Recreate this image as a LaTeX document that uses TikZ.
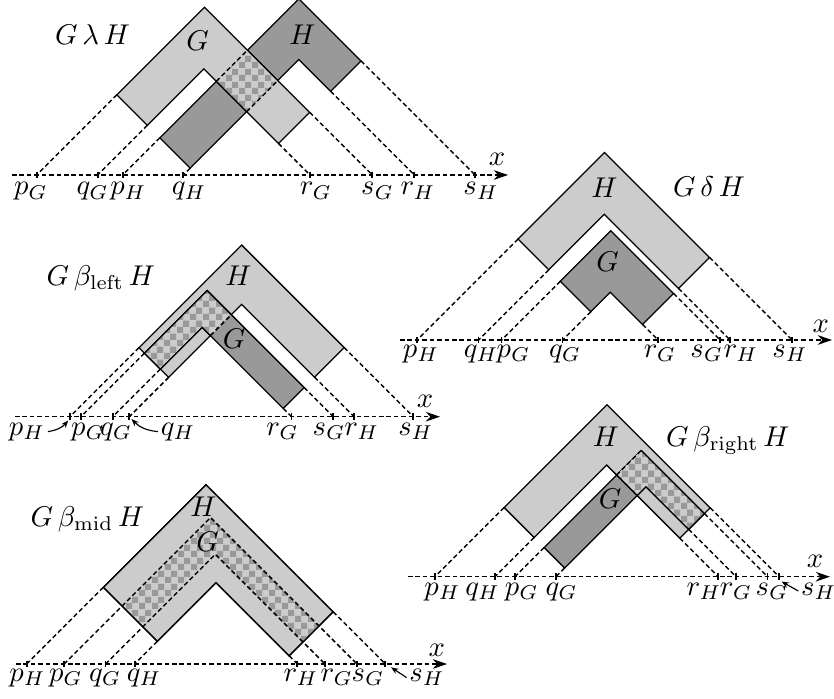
\documentclass[tikz,border=0pt]{standalone}
\usetikzlibrary{patterns,arrows.meta}
\pgfdeclarepatternformonly{mychecks}{\pgfqpoint{0pt}{0pt}}{\pgfqpoint{4.4pt}{4.4pt}}{\pgfqpoint{4.4pt}{4.4pt}}{%
  \pgfpathrectangle{\pgfqpoint{0pt}{0pt}}{\pgfqpoint{2.2pt}{2.2pt}}%
  \pgfpathrectangle{\pgfqpoint{2.2pt}{2.2pt}}{\pgfqpoint{2.2pt}{2.2pt}}%
  \pgfusepath{fill}}
\definecolor{lg}{gray}{0.8}
\definecolor{dg}{gray}{0.6}
\tikzset{
  proj/.style={dash pattern=on 1.6pt off 1pt, line width=0.5pt},
  axisline/.style={proj, -{Stealth[length=5pt,width=3.4pt]}},
  tickmark/.style={line width=0.6pt},
  lightshape/.style={fill=lg, draw=black, line width=0.45pt},
  darkshape/.style={fill=dg, draw=black, line width=0.45pt},
  outline/.style={draw=black, line width=0.45pt},
  checks/.style={pattern=mychecks, pattern color=dg},
  edge/.style={line width=0.45pt},
  lab/.style={anchor=base, inner sep=0pt},
  xl/.style={inner sep=0pt},
  ptr/.style={-{Stealth[length=2.6pt,width=2pt]}, line width=0.4pt},
}
\newcommand\mychev[7]{\path[#1] (#2,#6) -- (#2,#5) -- (#7,#5) -- (#7,#4) -- (#3,#4) -- (#3,#6) -- cycle;}
\newcommand\mymarks[7]{%
  \coordinate (#1p) at (#2,#2); \coordinate (#1q) at (#3,#3);
  \coordinate (#1r) at (#4,#4); \coordinate (#1s) at (#5,#5);
  \coordinate (#1cp) at (#2,#6); \coordinate (#1cq) at (#3,#6);
  \coordinate (#1cr) at (#7,#4); \coordinate (#1cs) at (#7,#5);}
\newcommand\myprojs[1]{\draw[proj] (#1cp) -- (#1p); \draw[proj] (#1cq) -- (#1q);
  \draw[proj] (#1cr) -- (#1r); \draw[proj] (#1cs) -- (#1s);}
\newcommand\myticks[1]{\foreach \t in {p,q,r,s}{\draw[tickmark] ([yshift=1.2pt]#1\t) -- ([yshift=-1.2pt]#1\t);}}
\newcommand\lab[4]{\node[lab] (#1) at (#2,#3) {$#4$};}
\begin{document}
\begin{tikzpicture}[x=0.35pt,y=-0.35pt]
\useasboundingbox (0,0) rectangle (834,698);

% ---------------- Panel 1: G lambda H
\begin{scope}[shift={(0,175)}]
\begin{scope}[x={(0.175pt,-0.175pt)},y={(0.175pt,0.175pt)}]
\mymarks{AG}{36.7}{97.7}{310}{372.3}{197}{247}
\mymarks{AH}{122.7}{183.3}{414.3}{475}{197}{247}
\myprojs{AG}\myprojs{AH}
\mychev{darkshape}{122.7}{183.3}{414.3}{475}{197}{247}
\mychev{lightshape}{36.7}{97.7}{310}{372.3}{197}{247}
\path[fill=lg] (122.7,310) -- (122.7,372.3) -- (183.3,372.3) -- (183.3,310) -- cycle;
\path[checks] (122.7,310) -- (122.7,372.3) -- (183.3,372.3) -- (183.3,310) -- cycle;
\draw[edge] (122.7,310) -- (183.3,310) (122.7,372.3) -- (183.3,372.3);
\draw[proj] (122.7,310) -- (122.7,372.3) (183.3,310) -- (183.3,372.3);
\end{scope}
\end{scope}
\coordinate (A0) at (12,175); \coordinate (A1) at (508,175);
\draw[axisline] (A0) -- (A1);
\node[xl] (Ax) at (497,159) {$x$};
\myticks{AG}\myticks{AH}
\lab{ApGl}{30.8}{195}{p_G}
\lab{AqGl}{92.5}{195}{q_G}
\lab{ApHl}{128.3}{195}{p_H}
\lab{AqHl}{189.2}{195}{q_H}
\lab{ArGl}{315.8}{195}{r_G}
\lab{AsGl}{377.5}{195}{s_G}
\lab{ArHl}{418}{195}{r_H}
\lab{AsHl}{481}{195}{s_H}
\lab{Atitle}{92.5}{44.3}{G\,\lambda\,H}
\lab{AGn}{197.5}{50.7}{G}
\lab{AHn}{302.5}{45}{H}

% ---------------- Panel 2: G delta H
\begin{scope}[shift={(0,340)}]
\begin{scope}[x={(0.175pt,-0.175pt)},y={(0.175pt,0.175pt)}]
\mymarks{BH}{417}{478.5}{730}{792}{619}{627}
\mymarks{BG}{501.5}{562.5}{658}{720}{619}{627}
\myprojs{BH}\myprojs{BG}
\mychev{lightshape}{417}{478.5}{730}{792}{619}{627}
\mychev{darkshape}{501.5}{562.5}{658}{720}{619}{627}
\end{scope}
\end{scope}
\coordinate (B0) at (400,340); \coordinate (B1) at (832,340);
\draw[axisline] (B0) -- (B1);
\node[xl] (Bx) at (820.7,326.7) {$x$};
\myticks{BH}\myticks{BG}
\lab{BpHl}{421}{357.3}{p_H}
\lab{BqHl}{481}{357.3}{q_H}
\lab{BpGl}{513.5}{357.3}{p_G}
\lab{BqGl}{565}{357.3}{q_G}
\lab{BrGl}{660}{357.3}{r_G}
\lab{BsGl}{706.7}{357.3}{s_G}
\lab{BrHl}{740.8}{357.3}{r_H}
\lab{BsHl}{790}{357.3}{s_H}
\lab{Btitle}{709}{196.7}{G\,\delta\,H}
\lab{BHn}{604.5}{197.3}{H}
\lab{BGn}{607.5}{271.7}{G}

% ---------------- Panel 3: G beta_left H
\begin{scope}[shift={(0,416.7)}]
\begin{scope}[x={(0.175pt,-0.175pt)},y={(0.175pt,0.175pt)}]
\mymarks{CH}{70}{129.3}{354}{413.3}{208}{275}
\mymarks{CG}{81}{112.7}{291.5}{333.3}{208}{275}
\myprojs{CH}\myprojs{CG}
\mychev{lightshape}{70}{129.3}{354}{413.3}{208}{275}
\mychev{darkshape}{81}{112.7}{291.5}{333.3}{208}{275}
\path[fill=lg] (81,208) -- (81,333.3) -- (129.3,333.3) -- (129.3,291.5) -- (112.7,291.5) -- (112.7,208) -- cycle;
\path[checks] (81,208) -- (81,333.3) -- (129.3,333.3) -- (129.3,291.5) -- (112.7,291.5) -- (112.7,208) -- cycle;
\draw[edge] (129.3,333.3) -- (81,333.3) -- (81,208) -- (112.7,208) -- (112.7,291.5) -- (129.3,291.5);
\draw[proj] (129.3,291.5) -- (129.3,333.3);
\end{scope}
\end{scope}
\coordinate (C0) at (15,416.7); \coordinate (C1) at (440,416.7);
\draw[axisline] (C0) -- (C1);
\node[xl] (Cx) at (425,401.7) {$x$};
\myticks{CH}\myticks{CG}
\lab{CpHl}{27}{435}{p_H}
\lab{CpGl}{88}{435}{p_G}
\lab{CqGl}{116}{435}{q_G}
\lab{CqHl}{178}{435}{q_H}
\lab{CrGl}{282.5}{435}{r_G}
\lab{CsGl}{329}{435}{s_G}
\lab{CrHl}{361.7}{435}{r_H}
\lab{CsHl}{415.8}{435}{s_H}
\coordinate (CpHa) at (68.3,420.5);
\coordinate (CqHa) at (131.5,419);
\draw[ptr] ([xshift=0.8pt]CpHl.east) to[bend right=20] (CpHa);
\draw[ptr] ([xshift=-0.8pt]CqHl.west) to[bend left=20] (CqHa);
\lab{Ctitle}{100.8}{285.7}{G\,\beta_{\mathrm{left}}\,H}
\lab{CHn}{238.3}{285.7}{H}
\lab{CGn}{234}{348.3}{G}

% ---------------- Panel 4: G beta_right H
\begin{scope}[shift={(0,576.7)}]
\begin{scope}[x={(0.175pt,-0.175pt)},y={(0.175pt,0.175pt)}]
\mymarks{DH}{435}{495}{718.3}{779}{573.3}{641.3}
\mymarks{DG}{515}{556}{736}{767.5}{573.3}{641.3}
\myprojs{DH}\myprojs{DG}
\mychev{lightshape}{435}{495}{718.3}{779}{573.3}{641.3}
\mychev{darkshape}{515}{556}{736}{767.5}{573.3}{641.3}
\path[fill=lg] (515,718.3) -- (515,767.5) -- (641.3,767.5) -- (641.3,736) -- (556,736) -- (556,718.3) -- cycle;
\path[checks] (515,718.3) -- (515,767.5) -- (641.3,767.5) -- (641.3,736) -- (556,736) -- (556,718.3) -- cycle;
\draw[edge] (515,767.5) -- (641.3,767.5) -- (641.3,736) -- (556,736) -- (556,718.3) -- (515,718.3);
\draw[proj] (515,718.3) -- (515,767.5);
\end{scope}
\end{scope}
\coordinate (D0) at (408,576.7); \coordinate (D1) at (830,576.7);
\draw[axisline] (D0) -- (D1);
\node[xl] (Dx) at (815,561.7) {$x$};
\myticks{DH}\myticks{DG}
\lab{DpHl}{442.5}{595}{p_H}
\lab{DqHl}{482.5}{595}{q_H}
\lab{DpGl}{521.7}{595}{p_G}
\lab{DqGl}{561.7}{595}{q_G}
\lab{DrHl}{704}{595}{r_H}
\lab{DrGl}{736}{595}{r_G}
\lab{DsGl}{772}{595}{s_G}
\lab{DsHl}{818.7}{595}{s_H}
\coordinate (DsHa) at (781.5,581.5);
\draw[ptr] ([xshift=-0.8pt]DsHl.west) -- (DsHa);
\lab{Dtitle}{727.8}{446}{G\,\beta_{\mathrm{right}}\,H}
\lab{DHn}{605.8}{446}{H}
\lab{DGn}{610}{508.3}{G}

% ---------------- Panel 5: G beta_mid H
\begin{scope}[shift={(0,664)}]
\begin{scope}[x={(0.175pt,-0.175pt)},y={(0.175pt,0.175pt)}]
\mymarks{EH}{26.7}{134.7}{297.3}{385.3}{180}{281}
\mymarks{EG}{64}{105.5}{325}{357}{180}{281}
\myprojs{EH}
\mychev{lightshape}{26.7}{134.7}{297.3}{385.3}{180}{281}
\mychev{checks}{64}{105.5}{325}{357}{180}{281}
\mychev{outline}{26.7}{134.7}{297.3}{385.3}{180}{281}
\draw[proj] (EGp) -- (64,357) -- (EGs);
\draw[proj] (EGq) -- (105.5,325) -- (EGr);
\end{scope}
\end{scope}
\coordinate (E0) at (16,664); \coordinate (E1) at (447,664);
\draw[axisline] (E0) -- (E1);
\node[xl] (Ex) at (436.7,650) {$x$};
\myticks{EH}\myticks{EG}
\lab{EpHl}{27.5}{681.6}{p_H}
\lab{EpGl}{65.8}{681.6}{p_G}
\lab{EqGl}{105}{681.6}{q_G}
\lab{EqHl}{144}{681.6}{q_H}
\lab{ErHl}{301}{681.6}{r_H}
\lab{ErGl}{336.7}{681.6}{r_G}
\lab{EsGl}{368}{681.6}{s_G}
\lab{EsHl}{427}{681.6}{s_H}
\coordinate (EsHa) at (391,667.3);
\draw[ptr] ([xshift=-0.8pt]EsHl.west) -- (EsHa);
\lab{Etitle}{87.5}{526.7}{G\,\beta_{\mathrm{mid}}\,H}
\lab{EHn}{203.5}{516}{H}
\lab{EGn}{207.5}{551}{G}
\end{tikzpicture}
\end{document}
